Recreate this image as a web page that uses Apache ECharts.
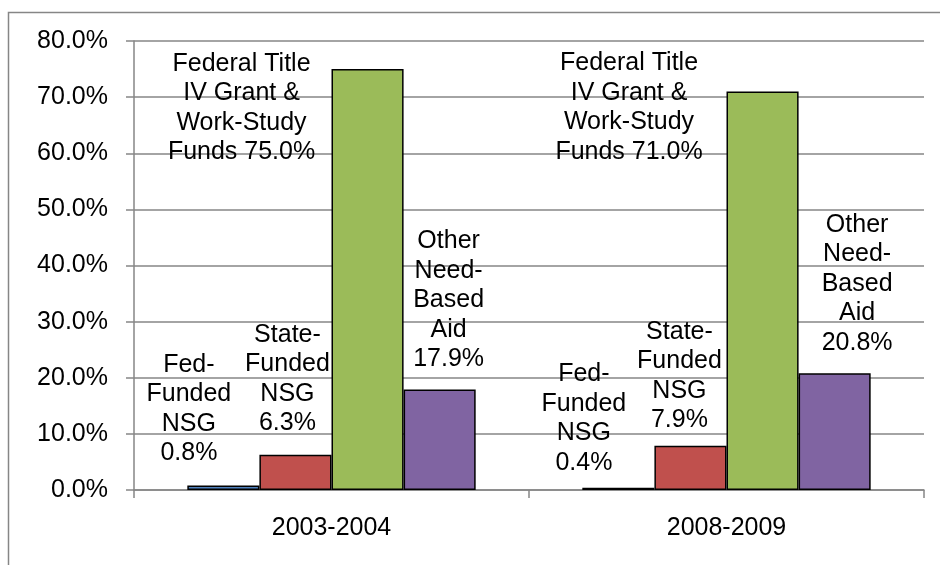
<!DOCTYPE html>
<html>
<head>
<meta charset="utf-8">
<script src="https://cdn.jsdelivr.net/npm/echarts@6/dist/echarts.min.js"></script>
<style>
    html, body { margin: 0; padding: 0; background: #fff; }
    #main { width: 940px; height: 565px; }
</style>
</head>
<body>
<div id="main"></div>
<script>
    // data
    var years = ['2003-2004', '2008-2009'];
    var seriesNames = ['Fed-Funded NSG', 'State-Funded NSG', 'Federal Title IV Grant & Work-Study Funds', 'Other Need-Based Aid'];
    var fedNsg = [0.8, 0.4];
    var stateNsg = [6.3, 7.9];
    var titleIv = [75.0, 71.0];
    var otherAid = [17.9, 20.8];
    var labelHeads = [
        'Fed-\nFunded\nNSG\n',
        'State-\nFunded\nNSG\n',
        'Federal Title\nIV Grant &\nWork-Study\nFunds ',
        'Other\nNeed-\nBased\nAid\n'
    ];
    var yTicks = [0, 10, 20, 30, 40, 50, 60, 70, 80];

    // label placement (moved by hand in the original)
    var labelOffsets = [
        [[-34.5, -12.5], [-34.5, -5]],
        [[-8, -11.5], [-11, -5.5]],
        [[-126, 103], [-133.5, 80]],
        [[9, -10.5], [22.5, -10.5]]
    ];
    var colors = ['#4F81BD', '#C0504D', '#9BBB59', '#8064A2'];
    var values = [fedNsg, stateNsg, titleIv, otherAid];
    var font = "'Liberation Sans', Arial, sans-serif";
    var gray = '#868686';

    var chart = echarts.init(document.getElementById('main'));

    var series = values.map(function (vals, s) {
        return {
            name: seriesNames[s],
            type: 'bar',
            barGap: 0,
            barCategoryGap: '27%',
            itemStyle: { color: colors[s], borderColor: '#000', borderWidth: 1.5 },
            data: vals.map(function (v, i) {
                return {
                    value: v,
                    label: { offset: labelOffsets[s][i] }
                };
            }),
            label: {
                show: true,
                position: 'top',
                distance: 5,
                fontFamily: font,
                fontSize: 25,
                lineHeight: 29.5,
                color: '#000',
                align: 'center',
                formatter: function (p) {
                    return labelHeads[s] + p.value.toFixed(1) + '%';
                }
            }
        };
    });

    chart.setOption({
        animation: false,
        graphic: [{
            type: 'rect',
            shape: { x: 8.5, y: 12.5, width: 1000, height: 1000 },
            style: { fill: 'none', stroke: gray, lineWidth: 1.5 },
            silent: true
        }],
        grid: { left: 134, right: 16, top: 41, bottom: 75 },
        xAxis: {
            type: 'category',
            data: years,
            axisLine: { lineStyle: { color: gray, width: 1.5 } },
            axisTick: { show: true, length: 8, lineStyle: { color: gray, width: 1.5 } },
            axisLabel: { margin: 26, fontFamily: font, fontSize: 25, color: '#000' }
        },
        yAxis: {
            type: 'value',
            min: yTicks[0],
            max: yTicks[yTicks.length - 1],
            interval: 10,
            axisLine: { show: true, lineStyle: { color: gray, width: 1.5 } },
            axisTick: { show: true, length: 8, lineStyle: { color: gray, width: 1.5 } },
            splitLine: { lineStyle: { color: gray, width: 1.5 } },
            axisLabel: {
                margin: 26,
                fontFamily: font,
                fontSize: 25,
                color: '#000',
                formatter: function (v) { return v.toFixed(1) + '%'; }
            }
        },
        series: series
    });
</script>
</body>
</html>
